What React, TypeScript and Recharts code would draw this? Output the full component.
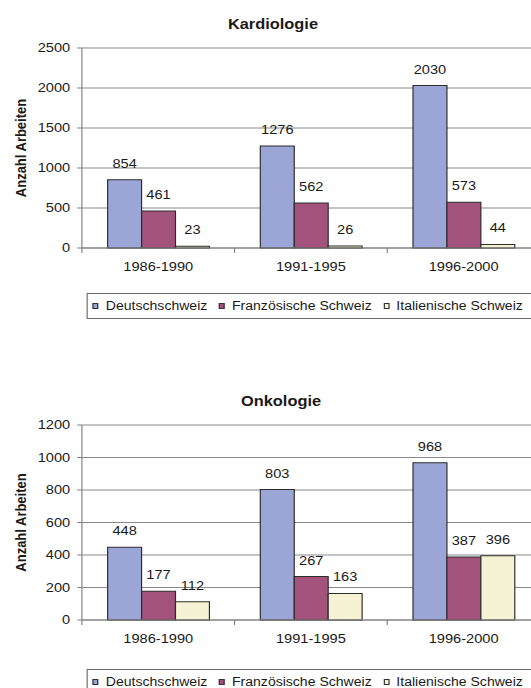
import { Bar, BarChart, CartesianGrid, LabelList, Legend, XAxis, YAxis } from "recharts"

const periods = ["1986-1990", "1991-1995", "1996-2000"]
const regions = ["Deutschschweiz", "Französische Schweiz", "Italienische Schweiz"]
const regionColors = ["#9ba6d6", "#a2527b", "#f6f3d4"]

// Kardiologie: number of papers per language region
const kardioDeutsch = [854, 1276, 2030]
const kardioFranz = [461, 562, 573]
const kardioItal = [23, 26, 44]
const kardioTicks = [0, 500, 1000, 1500, 2000, 2500]

// Onkologie
const onkoDeutsch = [448, 803, 968]
const onkoFranz = [177, 267, 387]
const onkoItal = [112, 163, 396]
const onkoTicks = [0, 200, 400, 600, 800, 1000, 1200]

const buildRows = (series: number[][]) =>
  periods.map((period, i) => {
    const row: Record<string, string | number> = { period }
    regions.forEach((region, j) => {
      row[region] = series[j][i]
    })
    return row
  })

const kardioRows = buildRows([kardioDeutsch, kardioFranz, kardioItal])
const onkoRows = buildRows([onkoDeutsch, onkoFranz, onkoItal])

// the old export is slightly wider than tall, so the chart is drawn narrow and stretched
const STRETCH = 1.17
const INNER_W = 470
const PLOT_RIGHT = 461.5
const AXIS_W = 70
const X_AXIS_H = 30
const TEXT = "#1a1a1a"
const AXIS = "#808080"

const PeriodTick = (props: any) => {
  const { x, y, payload, width, visibleTicksCount } = props
  const half = payload.offset ?? width / visibleTicksCount / 2
  return (
    <g>
      {/* separator tick at the left edge of each period */}
      <line x1={x - half} x2={x - half} y1={y - 14} y2={y - 9} stroke={AXIS} />
      <text x={x} y={y} dy="0.71em" textAnchor="middle" fill={TEXT} fontSize={12.5}>
        {payload.value}
      </text>
    </g>
  )
}

const AxisTitle = ({ viewBox }: any) => {
  const cx = viewBox.x + 22.5
  const cy = viewBox.y + viewBox.height / 2
  return (
    <text
      x={cx}
      y={cy}
      transform={`rotate(-90 ${cx} ${cy})`}
      textAnchor="middle"
      fontWeight="bold"
      fontSize={13}
      fill={TEXT}
    >
      Anzahl Arbeiten
    </text>
  )
}

const RegionLegend = ({ payload }: any) => (
  <div
    style={{
      display: "flex",
      alignItems: "center",
      height: "100%",
      boxSizing: "border-box",
      border: "1px solid #6b6b6b",
      paddingLeft: 4,
      fontSize: 12,
      color: TEXT,
      whiteSpace: "nowrap",
    }}
  >
    {(payload || []).map((entry: any) => (
      <span key={entry.value} style={{ display: "inline-flex", alignItems: "center", marginRight: 10 }}>
        <span
          style={{
            display: "inline-block",
            width: 5.1,
            height: 6,
            boxSizing: "border-box",
            border: "1px solid #333",
            background: entry.color,
            marginRight: 6,
          }}
        />
        {entry.value}
      </span>
    ))}
  </div>
)

type ChartProps = {
  title: string
  titleCenter: number
  titleTop: number
  rows: Record<string, string | number>[]
  ticks: number[]
  top: number
  height: number
  plotTop: number
  plotBottom: number
  legendTop: number
}

function RegionChart({ title, titleCenter, titleTop, rows, ticks, top, height, plotTop, plotBottom, legendTop }: ChartProps) {
  return (
    <div
      style={{
        position: "absolute",
        left: 0,
        top,
        width: INNER_W,
        height,
        transform: `scaleX(${STRETCH})`,
        transformOrigin: "0 0",
      }}
    >
      <div
        style={{
          position: "absolute",
          left: titleCenter - 100,
          top: titleTop,
          width: 200,
          textAlign: "center",
          fontWeight: "bold",
          fontSize: 14,
          lineHeight: "14px",
          color: TEXT,
          zIndex: 1,
        }}
      >
        {title}
      </div>
      <BarChart
        width={INNER_W}
        height={height}
        data={rows}
        margin={{ top: plotTop, right: INNER_W - PLOT_RIGHT, bottom: height - plotBottom - X_AXIS_H, left: 0 }}
        barSize={29}
        barGap={0}
      >
        <CartesianGrid vertical={false} stroke="#8a8a8a" />
        <XAxis
          dataKey="period"
          interval={0}
          height={X_AXIS_H}
          stroke={AXIS}
          tickLine={false}
          tickSize={5}
          tickMargin={9}
          tick={<PeriodTick />}
        />
        <YAxis
          width={AXIS_W}
          domain={[ticks[0], ticks[ticks.length - 1]]}
          ticks={ticks}
          interval={0}
          stroke={AXIS}
          tickSize={4}
          tickMargin={6}
          tick={{ fill: TEXT, fontSize: 12.5 }}
          label={{ content: <AxisTitle /> }}
        />
        <Legend
          verticalAlign="middle"
          align="center"
          content={<RegionLegend />}
          wrapperStyle={{ left: 74.4, top: legendTop, width: 420, height: 26 }}
        />
        {regions.map((region, i) => (
          <Bar key={region} dataKey={region} name={region} fill={regionColors[i]} stroke="#2b2b2b" isAnimationActive={false}>
            <LabelList dataKey={region} position="top" offset={12} fill={TEXT} fontSize={12.5} />
          </Bar>
        ))}
      </BarChart>
    </div>
  )
}

export default function App() {
  return (
    <div
      style={{
        position: "relative",
        width: 531,
        height: 688,
        overflow: "hidden",
        background: "#fff",
        fontFamily: '"Liberation Sans", Arial, sans-serif',
      }}
    >
      <style>{"body { margin: 0; }"}</style>
      <RegionChart
        title="Kardiologie"
        titleCenter={233.3}
        titleTop={16.5}
        rows={kardioRows}
        ticks={kardioTicks}
        top={0}
        height={340}
        plotTop={48}
        plotBottom={248}
        legendTop={293}
      />
      <RegionChart
        title="Onkologie"
        titleCenter={240.2}
        titleTop={33.8}
        rows={onkoRows}
        ticks={onkoTicks}
        top={360}
        height={328}
        plotTop={65}
        plotBottom={260}
        legendTop={309}
      />
    </div>
  )
}
